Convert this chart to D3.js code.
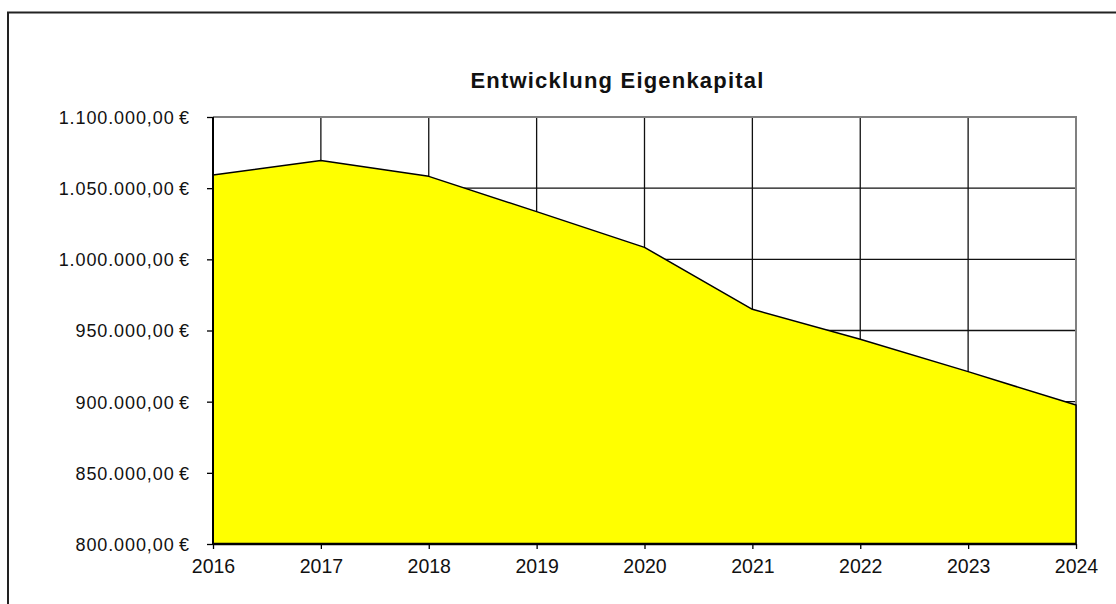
<!DOCTYPE html>
<html><head><meta charset="utf-8">
<script src="https://cdn.jsdelivr.net/npm/d3@7"></script>
<style>body{margin:0;background:#fff;}svg{display:block;font-family:"Liberation Sans",Arial,sans-serif;}</style>
</head><body>
<svg id="c" width="1116" height="604"></svg>
<script>
const years = [2016, 2017, 2018, 2019, 2020, 2021, 2022, 2023, 2024];
const eigenkapital = [1059300, 1069500, 1058300, 1033500, 1008400, 964900, 943800, 921100, 897600];
const yTicks = [800000, 850000, 900000, 950000, 1000000, 1050000, 1100000];
const title = "Entwicklung Eigenkapital";

const svg = d3.select("#c");
const L = 213, R = 1076, T = 117, B = 544;
const x = d3.scalePoint().domain(years).range([L, R]);
const y = d3.scaleLinear().domain([800000, 1100000]).range([B, T]);
const fmt = v => d3.formatLocale({decimal: ",", thousands: ".", grouping: [3], currency: ["", " €"]}).format(",.2f")(v) + "\u2009€";

// outer frame
svg.append("path").attr("d", "M8,604 L8,12.5 L1116,12.5").attr("fill", "none").attr("stroke", "#222").attr("stroke-width", 2);

// grid
svg.append("g").selectAll("line.h").data(yTicks.slice(1, -1)).join("line")
  .attr("x1", L).attr("x2", R).attr("y1", d => y(d)).attr("y2", d => y(d))
  .attr("stroke", "#111").attr("stroke-width", 1.3);
svg.append("g").selectAll("line.v").data(years.slice(1, -1)).join("line")
  .attr("x1", d => x(d)).attr("x2", d => x(d)).attr("y1", T).attr("y2", B)
  .attr("stroke", "#111").attr("stroke-width", 1.3);

// top & right border
svg.append("path").attr("d", `M${L},${T} L${R},${T} L${R},${B}`).attr("fill", "none").attr("stroke", "#808080").attr("stroke-width", 2);

// area
const data = years.map((yr, i) => ({yr, v: eigenkapital[i]}));
svg.append("path").datum(data)
  .attr("d", d3.area().x(d => x(d.yr)).y0(y(800000)).y1(d => y(d.v)))
  .attr("fill", "#ffff00").attr("stroke", "#000").attr("stroke-width", 1.5).attr("stroke-linejoin", "round");

// axes
const yAxis = d3.axisLeft(y).tickValues(yTicks).tickSize(6).tickFormat(fmt);
const gy = svg.append("g").attr("transform", `translate(${L},0)`).call(yAxis);
gy.select(".domain").attr("stroke", "#000").attr("stroke-width", 2).attr("d", `M0,${T}V${B}`);
gy.selectAll(".tick line").attr("stroke", "#000").attr("stroke-width", 1.3);
gy.selectAll("text").attr("font-size", 18).attr("letter-spacing", "0.9px").attr("fill", "#111")
  .attr("x", -23).attr("dy", "0.36em").attr("font-family", "Liberation Sans, Arial, sans-serif");

const xAxis = d3.axisBottom(x).tickSize(5).tickPadding(10);
const gx = svg.append("g").attr("transform", `translate(0,${B})`).call(xAxis);
gx.select(".domain").attr("stroke", "#000").attr("stroke-width", 2.5).attr("d", `M${L},0H${R}`);
gx.selectAll(".tick line").attr("stroke", "#000").attr("stroke-width", 1.3);
gx.selectAll("text").attr("font-size", 19.5).attr("fill", "#111").attr("font-family", "Liberation Sans, Arial, sans-serif");

svg.append("text").attr("x", 617.5).attr("y", 88.3).attr("text-anchor", "middle")
  .attr("font-size", 22).attr("letter-spacing", "1.2px").attr("font-weight", "bold").attr("fill", "#111").text(title);
</script>
</body></html>
